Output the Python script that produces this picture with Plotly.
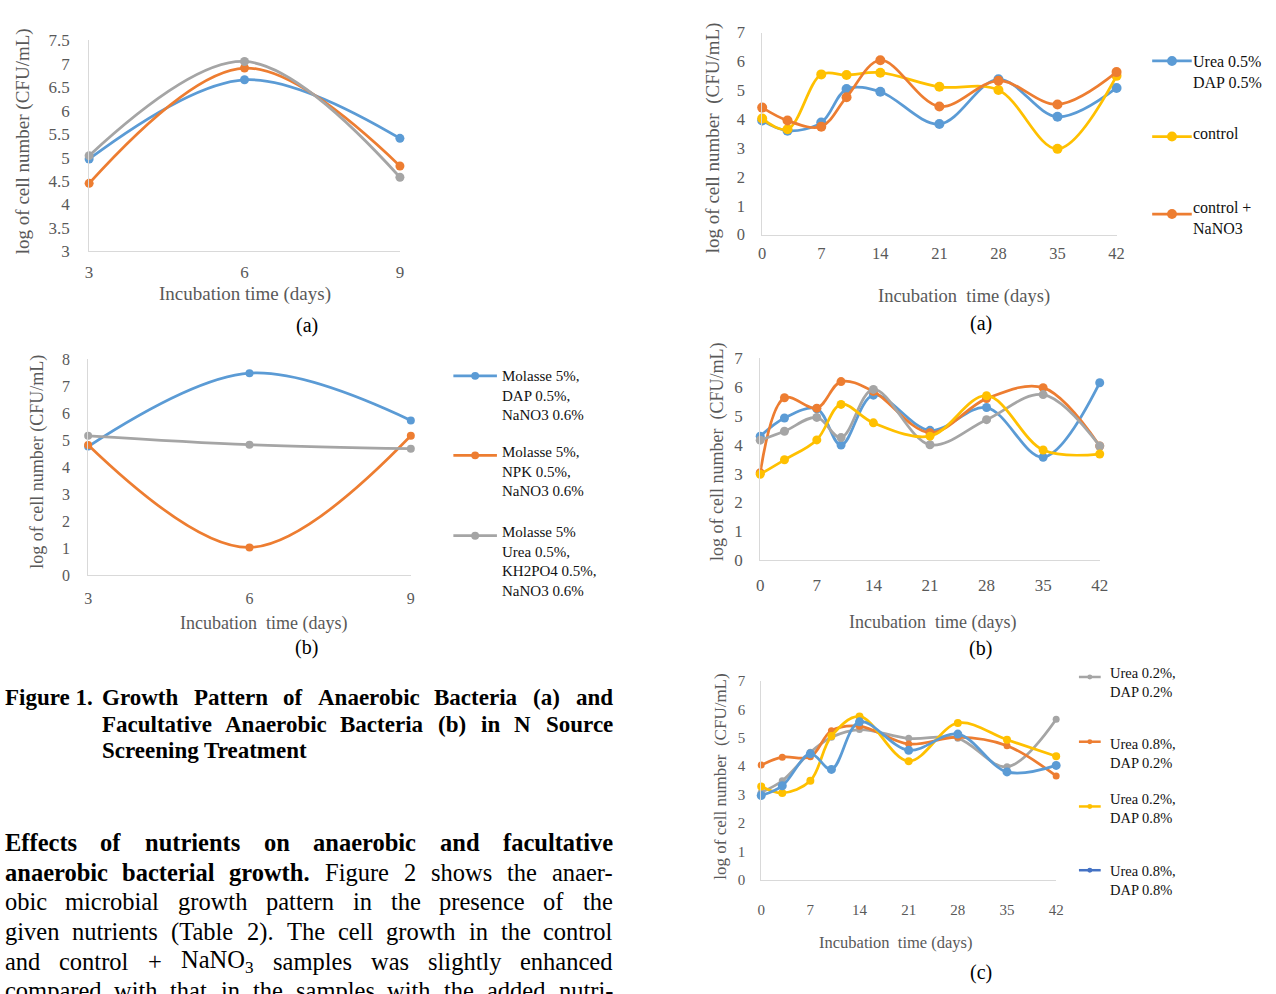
import plotly.graph_objects as go

# ---------------- data ----------------
f1_days = [3, 6, 9]
f1a_series_1 = [4.97, 6.66, 5.41]
f1a_series_2 = [4.45, 6.91, 4.82]
f1a_series_3 = [5.04, 7.05, 4.58]

f1b_names = ["Molasse 5%,<br>DAP 0.5%,<br>NaNO3 0.6%",
             "Molasse 5%,<br>NPK 0.5%,<br>NaNO3 0.6%",
             "Molasse 5%<br>Urea 0.5%,<br>KH2PO4 0.5%,<br>NaNO3 0.6%"]
f1b_dap = [4.76, 7.48, 5.73]
f1b_npk = [4.82, 1.02, 5.16]
f1b_urea = [5.16, 4.83, 4.68]

f2_days = [0, 3, 7, 10, 14, 21, 28, 35, 42]
f2_xticks = [0, 7, 14, 21, 28, 35, 42]

f2a_names = ["Urea 0.5%<br>DAP 0.5%", "control", "control +<br>NaNO3"]
f2a_urea_dap = [3.95, 3.60, 3.88, 5.04, 4.95, 3.83, 5.38, 4.08, 5.08]
f2a_control = [4.02, 3.65, 5.55, 5.53, 5.61, 5.12, 5.01, 2.97, 5.50]
f2a_control_nano3 = [4.40, 3.95, 3.74, 4.76, 6.04, 4.44, 5.33, 4.51, 5.63]

f2b_series_1 = [4.30, 4.93, 5.25, 3.99, 5.72, 4.50, 5.29, 3.57, 6.15]
f2b_series_2 = [3.03, 5.63, 5.27, 6.19, 5.85, 4.42, 5.60, 5.98, 3.96]
f2b_series_3 = [4.16, 4.47, 4.95, 4.25, 5.92, 4.00, 4.87, 5.74, 3.96]
f2b_series_4 = [2.98, 3.48, 4.17, 5.40, 4.76, 4.30, 5.70, 3.82, 3.68]

f2c_names = ["Urea 0.2%,<br>DAP 0.2%", "Urea 0.8%,<br>DAP 0.2%",
             "Urea 0.2%,<br>DAP 0.8%", "Urea 0.8%,<br>DAP 0.8%"]
f2c_u02_d02 = [3.08, 3.49, 4.49, 5.02, 5.29, 4.98, 4.98, 3.98, 5.65]
f2c_u08_d02 = [4.04, 4.32, 4.33, 5.25, 5.41, 4.78, 5.02, 4.72, 3.66]
f2c_u02_d08 = [3.29, 3.06, 3.49, 5.06, 5.75, 4.18, 5.52, 4.93, 4.35]
f2c_u08_d08 = [2.97, 3.31, 4.44, 3.89, 5.56, 4.56, 5.13, 3.80, 4.03]

y_title = "log of cell number (CFU/mL)"
y_title2 = "log of cell number\u00a0 (CFU/mL)"
x_title = "Incubation time (days)"
x_title2 = "Incubation\u00a0 time (days)"

caption_head = "Figure 1."
caption_lines = ["Growth Pattern of Anaerobic Bacteria (a) and",
                 "Facultative Anaerobic Bacteria (b) in N Source",
                 "Screening Treatment"]
para_lines = [
    [("Effects of nutrients on anaerobic and facultative", True)],
    [("anaerobic bacterial growth.", True), ("Figure 2 shows the anaer-", False)],
    [("obic microbial growth pattern in the presence of the", False)],
    [("given nutrients (Table 2). The cell growth in the control", False)],
    [("and control + NaNO3 samples was slightly enhanced", False)],
    [("compared with that in the samples with the added nutri-", False)],
]

# ---------------- styling ----------------
W, H = 1276, 994
SERIF = "Liberation Serif, Times New Roman, serif"
TICK_C = "#595959"
AXIS_C = "#d9d9d9"
LEG_C = "#111111"
BLUE, ORANGE, GRAY, YELLOW = "#5B9BD5", "#ED7D31", "#A5A5A5", "#FFC000"


def fx(px):
    return px / W


def fy(py):
    return 1 - py / H


fig = go.Figure()


def setup_axes(i, xpx, ypx, xr, yr, xtickvals, ydtick, tfs, xstand, ystand):
    xk = "xaxis" if i == 1 else f"xaxis{i}"
    yk = "yaxis" if i == 1 else f"yaxis{i}"
    common = dict(showline=True, linecolor=AXIS_C, linewidth=1, showgrid=False,
                  zeroline=False, ticks="", fixedrange=True,
                  tickfont=dict(family=SERIF, size=tfs, color=TICK_C))
    fig.layout[xk] = dict(domain=[fx(xpx[0]), fx(xpx[1])], range=xr,
                          anchor="y" if i == 1 else f"y{i}", tickvals=xtickvals,
                          ticklabelstandoff=xstand, **common)
    fig.layout[yk] = dict(domain=[fy(ypx[1]), fy(ypx[0])], range=yr,
                          anchor="x" if i == 1 else f"x{i}", dtick=ydtick, tick0=yr[0],
                          ticklabelstandoff=ystand, **common)


def add_series(i, x, y, color, msize, name="", lw=2.75):
    fig.add_trace(go.Scatter(
        x=x, y=y, name=name, mode="lines+markers",
        line=dict(color=color, width=lw, shape="spline", smoothing=1),
        marker=dict(color=color, size=msize),
        xaxis="x" if i == 1 else f"x{i}", yaxis="y" if i == 1 else f"y{i}",
        cliponaxis=False, showlegend=False, hoverinfo="x+y"))


def txt(x, y, s, size, color="#000000", xanchor="left", yanchor="middle", angle=0, align="left"):
    fig.add_annotation(x=fx(x), y=fy(y), xref="paper", yref="paper", text=s,
                       showarrow=False, xanchor=xanchor, yanchor=yanchor, textangle=angle,
                       align=align, borderpad=0, borderwidth=0,
                       font=dict(family=SERIF, size=size, color=color))


def legend_key(x0, x1, xm, y, color, msize, lw=2.75):
    fig.add_shape(type="line", xref="paper", yref="paper", x0=fx(x0), x1=fx(x1),
                  y0=fy(y), y1=fy(y), line=dict(color=color, width=lw))
    r = msize / 2
    fig.add_shape(type="circle", xref="paper", yref="paper", x0=fx(xm - r), x1=fx(xm + r),
                  y0=fy(y + r), y1=fy(y - r), fillcolor=color, line=dict(width=0))


# ---------- Panel 1 : Fig1 (a) ----------
setup_axes(1, (86, 400), (32, 247), [3, 9], [3, 7.5], f1_days, 0.5, 17, 5, 15)
add_series(1, f1_days, f1a_series_1, BLUE, 9)
add_series(1, f1_days, f1a_series_2, ORANGE, 9)
add_series(1, f1_days, f1a_series_3, GRAY, 9)
txt(20, 135, y_title, 19, TICK_C, "center", "middle", -90)
txt(243, 291, x_title, 19, TICK_C, "center")
txt(306, 323, "(a)", 20, "#000", "center")

# ---------- Panel 2 : Fig1 (b) ----------
setup_axes(2, (85, 411), (357, 577), [3, 9], [0, 8], f1_days, 1, 16, 9, 14)
add_series(2, f1_days, f1b_dap, BLUE, 8, f1b_names[0])
add_series(2, f1_days, f1b_npk, ORANGE, 8, f1b_names[1])
add_series(2, f1_days, f1b_urea, GRAY, 8, f1b_names[2])
txt(34, 462, y_title, 18, TICK_C, "center", "middle", -90)
txt(262, 626, x_title2, 18, TICK_C, "center")
txt(306, 651, "(b)", 20, "#000", "center")
for (ly, ty), c, nm in zip([(374, 376), (455, 453), (537, 535)], [BLUE, ORANGE, GRAY], f1b_names):
    legend_key(454, 498, 476, ly, c, 8)
    txt(503, ty - 10, nm, 15, LEG_C, "left", "top")

# ---------- Panel 3 : Fig2 (a) ----------
setup_axes(3, (766, 1124), (24, 230), [0, 42], [0, 7], f2_xticks, 1, 16.5, 4, 13)
add_series(3, f2_days, f2a_urea_dap, BLUE, 10, f2a_names[0])
add_series(3, f2_days, f2a_control, YELLOW, 10, f2a_names[1])
add_series(3, f2_days, f2a_control_nano3, ORANGE, 10, f2a_names[2])
txt(717, 131, y_title2, 19, TICK_C, "center", "middle", -90)
txt(970, 293, x_title2, 18.5, TICK_C, "center")
txt(987, 321, "(a)", 20, "#000", "center")
for (ly, ty), c, nm in zip([(53, 55), (130, 129), (209, 204)], [BLUE, YELLOW, ORANGE], f2a_names):
    legend_key(1160, 1200, 1180, ly, c, 10)
    txt(1201, ty - 10.5, nm, 16, LEG_C, "left", "top")

# ---------- Panel 4 : Fig2 (b) ----------
setup_axes(4, (764, 1107), (356, 562), [0, 42], [0, 7], f2_xticks, 1, 17, 9, 13)
add_series(4, f2_days, f2b_series_1, BLUE, 9)
add_series(4, f2_days, f2b_series_2, ORANGE, 9)
add_series(4, f2_days, f2b_series_3, GRAY, 9)
add_series(4, f2_days, f2b_series_4, YELLOW, 9)
txt(721, 452, y_title2, 18, TICK_C, "center", "middle", -90)
txt(938, 625, x_title2, 18, TICK_C, "center")
txt(987, 652, "(b)", 20, "#000", "center")

# ---------- Panel 5 : Fig2 (c) ----------
setup_axes(5, (765, 1063), (685, 888), [0, 42], [0, 7], f2_xticks, 1, 15, 16, 12)
add_series(5, f2_days, f2c_u02_d02, GRAY, 7, f2c_names[0])
add_series(5, f2_days, f2c_u08_d02, ORANGE, 7, f2c_names[1])
add_series(5, f2_days, f2c_u02_d08, YELLOW, 8, f2c_names[2])
add_series(5, f2_days, f2c_u08_d08, BLUE, 9, f2c_names[3])
txt(723, 783, y_title2, 17, TICK_C, "center", "middle", -90)
txt(901, 952, x_title2, 16.5, TICK_C, "center")
txt(987, 982, "(c)", 20, "#000", "center")
for (ly, ty), c, nm in zip([(681, 678), (747, 751), (813, 807), (878, 880)],
                           [GRAY, ORANGE, YELLOW, "#4472C4"], f2c_names):
    legend_key(1086, 1108, 1097, ly, c, 5, 2.5)
    txt(1117, ty - 9.5, nm, 14.5, LEG_C, "left", "top")

# ---------------- body text (justified) ----------------
R_UP = dict(zip("ABCDEFGHIJKLMNOPQRSTUVWXYZ",
                [722, 667, 667, 722, 611, 556, 722, 722, 333, 389, 722, 611, 889, 722, 722, 556, 722, 667, 556, 611, 722, 722, 944, 722, 722, 611]))
R_LO = dict(zip("abcdefghijklmnopqrstuvwxyz",
                [444, 500, 444, 500, 444, 333, 500, 500, 278, 278, 500, 278, 778, 500, 500, 500, 500, 333, 389, 278, 500, 500, 722, 500, 500, 444]))
B_UP = dict(zip("ABCDEFGHIJKLMNOPQRSTUVWXYZ",
                [722, 667, 722, 722, 667, 611, 778, 778, 389, 500, 778, 667, 944, 722, 778, 611, 778, 722, 556, 667, 722, 722, 1000, 722, 722, 667]))
B_LO = dict(zip("abcdefghijklmnopqrstuvwxyz",
                [500, 556, 444, 556, 444, 333, 500, 556, 278, 333, 556, 278, 833, 556, 500, 556, 556, 444, 389, 333, 556, 500, 722, 500, 500, 444]))
PUNCT_R = {" ": 250, ".": 250, ",": 250, "(": 333, ")": 333, "-": 333, "+": 564, "%": 833}
PUNCT_B = {" ": 250, ".": 250, ",": 250, "(": 333, ")": 333, "-": 333, "+": 570, "%": 1000}


def word_width(w, bold, size):
    up, lo, pu = (B_UP, B_LO, PUNCT_B) if bold else (R_UP, R_LO, PUNCT_R)
    tot = 0
    for ch in w:
        if ch.isdigit():
            tot += 500
        else:
            tot += up.get(ch, lo.get(ch, pu.get(ch, 500)))
    if w == "NaNO3":
        tot -= 500 * 0.3
    return tot / 1000 * size


def render_word(w, bold):
    s = "NaNO<sub>3</sub>" if w == "NaNO3" else w
    return "<b>" + s + "</b>" if bold else s


def justify(segments, y, x0, x1, size, justified=True):
    words = []
    for s, b in segments:
        for w in s.split(" "):
            words.append((w, b, word_width(w, b, size)))
    total = sum(w[2] for w in words)
    n = len(words)
    gap = (x1 - x0 - total) / (n - 1) if (justified and n > 1) else 250 / 1000 * size
    pos = x0
    for k, (w, b, ww) in enumerate(words):
        if k == 0:
            txt(x0, y, render_word(w, b), size, "#000", "left")
        elif k == n - 1 and justified:
            txt(x1, y, render_word(w, b), size, "#000", "right")
        else:
            txt(pos + ww / 2, y, render_word(w, b), size, "#000", "center")
        pos += ww + gap


CAP_SIZE = 23
CAP_SHIFT = 4
txt(1, 698 + CAP_SHIFT, "<b>" + caption_head + "</b>", CAP_SIZE, "#000", "left")
justify([(caption_lines[0], True)], 698 + CAP_SHIFT, 99, 615, CAP_SIZE)
justify([(caption_lines[1], True)], 725 + CAP_SHIFT, 99, 615, CAP_SIZE)
justify([(caption_lines[2], True)], 752 + CAP_SHIFT, 99, 615, CAP_SIZE, justified=False)

PARA_SIZE = 24.5
PARA_SHIFT = 6
for k, segs in enumerate(para_lines):
    justify(segs, 844 + PARA_SHIFT + k * 30.2, 1, 615, PARA_SIZE)

fig.update_layout(width=W, height=H, margin=dict(l=0, r=0, t=0, b=0),
                  paper_bgcolor="white", plot_bgcolor="white", showlegend=False)

fig.write_html("out.html", config={"displayModeBar": False},
               post_script="document.body.style.margin='0';document.body.style.overflow='hidden';")
